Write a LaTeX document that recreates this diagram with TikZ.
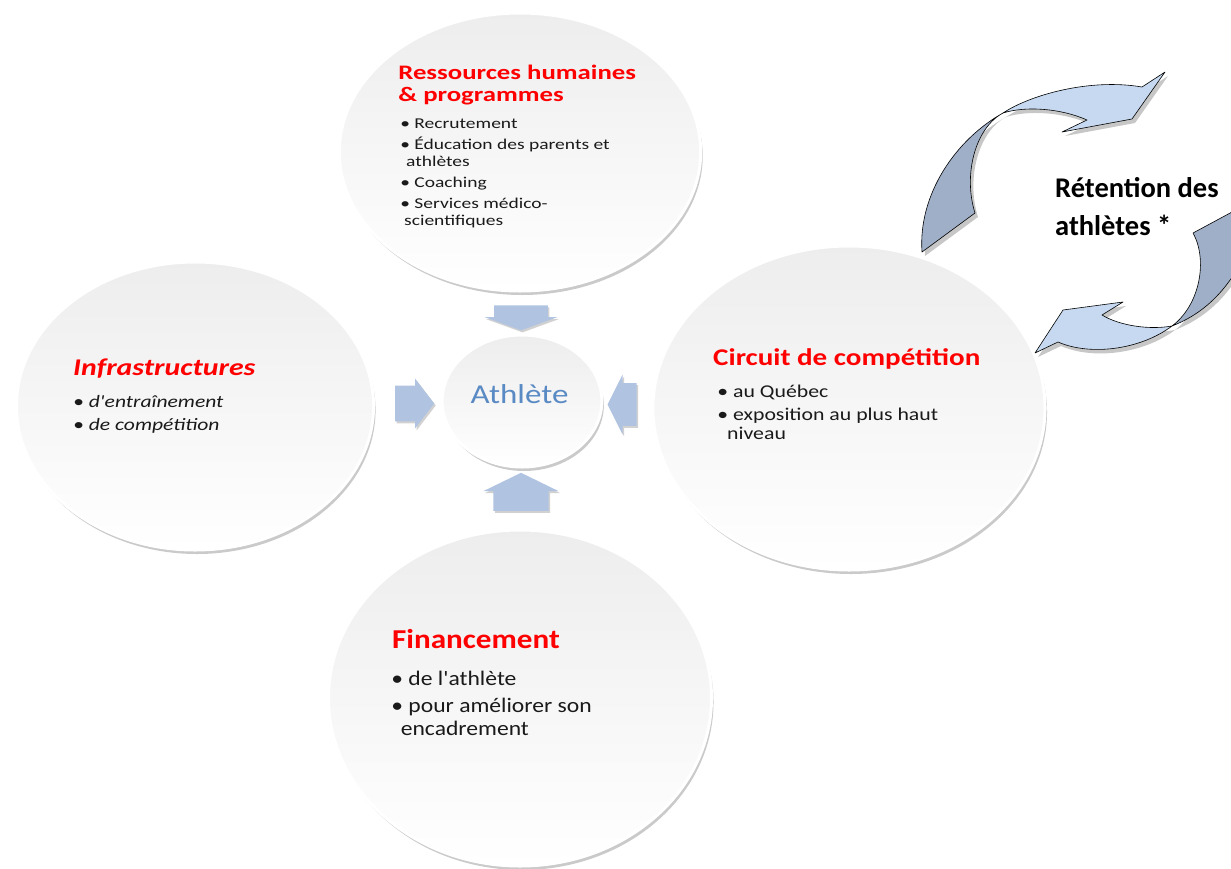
\documentclass[tikz,border=0pt]{standalone}
\usepackage{fontspec}
\setmainfont{Carlito}
\usetikzlibrary{shapes.arrows,shadows,calc}
\definecolor{titlered}{RGB}{255,0,0}
\definecolor{bodyblack}{RGB}{26,26,26}
\definecolor{athblue}{RGB}{90,138,196}
\definecolor{arrowfill}{RGB}{176,195,224}
\definecolor{ribbonlight}{RGB}{198,217,241}
\definecolor{ribbondark}{RGB}{160,175,200}

\begin{document}
\begin{tikzpicture}[x=1pt, y=1pt, >=stealth]
  \tikzstyle{disc} = [circle, inner sep=0pt, draw=white, line width=3pt, top color=gray!14, bottom color=white,
                      drop shadow={shadow xshift=2pt, shadow yshift=-4pt, opacity=.35, fill=black!60}]
  \tikzstyle{titletext} = [anchor=base west, align=left, inner sep=0pt, text=titlered]
  \tikzstyle{bodytext} = [anchor=base west, align=left, inner sep=0pt, text=bodyblack]
  \tikzstyle{feedarrow} = [single arrow, inner xsep=0pt, fill=arrowfill,
                           drop shadow={shadow xshift=1.5pt, shadow yshift=-2pt, opacity=.3, fill=black!60}]
  \tikzstyle{ribbon} = [draw=black, line width=.6pt, line join=round,
                        drop shadow={shadow xshift=3pt, shadow yshift=-4pt, opacity=.4, fill=black!55}]

  \useasboundingbox (0,0) rectangle (1231,-868);

  % Ressources humaines
  \begin{scope}[shift={(520,-152)}, xscale=1.3, transform shape]
    \node[disc, minimum size=278] (hr) at (0,0) {};
    \node[titletext, font=\bfseries\fontsize{20.6}{22.4}\selectfont] (hrtitle) at (-93.8,50.3)
      {Ressources humaines\\\& programmes};
    \node[bodytext, font=\fontsize{15}{17}\selectfont] (hrlist) at (-92.3,-73)
      {\textbullet{} Recrutement\\[4pt]
       \textbullet{} Éducation des parents et\\
       \hspace*{.3em}athlètes\\[4pt]
       \textbullet{} Coaching\\[4pt]
       \textbullet{} Services médico-\\
       \hspace*{.2em}scientifiques};
  \end{scope}

  % Infrastructures
  \begin{scope}[shift={(195,-406)}, xscale=1.24, transform shape]
    \node[disc, minimum size=288] (infra) at (0,0) {};
    \node[titletext, font=\bfseries\itshape\fontsize{24}{26}\selectfont] (infratitle) at (-98.4,31)
      {Infrastructures};
    \node[bodytext, font=\itshape\fontsize{17.4}{23}\selectfont] (infralist) at (-98.4,-24)
      {\textbullet{} d\textquotesingle entraînement\\
       \textbullet{} de compétition};
  \end{scope}

  % Circuit de competition
  \begin{scope}[shift={(849,-408)}, xscale=1.21, transform shape]
    \node[disc, minimum size=324] (circ) at (0,0) {};
    \node[titletext, font=\bfseries\fontsize{24}{26}\selectfont] (circtitle) at (-112.4,43)
      {Circuit de compétition};
    \node[bodytext, font=\fontsize{18}{19}\selectfont] (circlist) at (-109,-31)
      {\textbullet{} au Québec\\[4pt]
       \textbullet{} exposition au plus haut\\
       \hspace*{.45em}niveau};
  \end{scope}

  % Financement
  \begin{scope}[shift={(520,-698)}, xscale=1.14, transform shape]
    \node[disc, minimum size=336] (fund) at (0,0) {};
    \node[titletext, font=\bfseries\fontsize{27.3}{30}\selectfont] (fundtitle) at (-112.3,50)
      {Financement};
    \node[bodytext, font=\fontsize{20.7}{23}\selectfont] (fundlist) at (-113,-37)
      {\textbullet{} de l\textquotesingle athlète\\[4pt]
       \textbullet{} pour améliorer son\\
       \hspace*{.4em}encadrement};
  \end{scope}

  % Athlete in the middle
  \begin{scope}[shift={(522,-401)}, xscale=1.21, transform shape]
    \node[disc, minimum size=132] (ath) at (0,0) {};
    \node[font=\fontsize{27.3}{30}\selectfont, text=athblue, anchor=base, inner sep=0pt] (athname) at (-2,-2)
      {Athlète};
  \end{scope}

  % block arrows feeding the athlete
  \node[feedarrow, rotate=-90, inner ysep=19.5, minimum height=25, minimum width=73,
        single arrow tip angle=140] (hrfeed) at ($(hr.south)!.5!(ath.north)$) {};
  \node[feedarrow, rotate=90, inner ysep=19.5, minimum height=38, minimum width=75,
        single arrow tip angle=128] (fundfeed) at ($(fund.north)!.5!(ath.south)$) {};
  \node[feedarrow, inner ysep=17.5, minimum height=39, minimum width=50,
        single arrow tip angle=105] (infrafeed) at ($(infra.east)!.5!(ath.west)$) {};
  \node[feedarrow, rotate=180, inner ysep=17.5, minimum height=29, minimum width=60,
        single arrow tip angle=127] (circfeed) at ($(circ.west)!.5!(ath.east)$) {};

  % retention loop
  \filldraw[ribbon, fill=ribbondark] (922,-252) .. controls (918,-195) and (955,-140) .. (1003,-113)
    .. controls (975,-128) and (963,-175) .. (975,-213) -- cycle;
  \filldraw[ribbon, fill=ribbonlight] (1003,-113) .. controls (1030,-95) and (1090,-78) .. (1142,-87)
    -- (1165,-72) -- (1132,-119) -- (1062,-132) -- (1087,-120)
    .. controls (1060,-108) and (1025,-106) .. (1003,-113) -- cycle;
  \filldraw[ribbon, fill=ribbondark] (1193,-233) -- (1245,-205) -- (1245,-255)
    .. controls (1225,-295) and (1200,-315) .. (1172,-326)
    .. controls (1200,-305) and (1208,-260) .. (1193,-233) -- cycle;
  \filldraw[ribbon, fill=ribbonlight] (1172,-326) .. controls (1140,-350) and (1090,-356) .. (1058,-342)
    -- (1035,-353) -- (1063,-310) -- (1123,-302) -- (1102,-315)
    .. controls (1120,-326) and (1150,-330) .. (1172,-326) -- cycle;

  \node[font=\bfseries\fontsize{28.5}{38}\selectfont, align=left, anchor=base west, inner sep=0pt] (retention)
    at (1055,-235) {Rétention des\\athlètes *};
\end{tikzpicture}
\end{document}
